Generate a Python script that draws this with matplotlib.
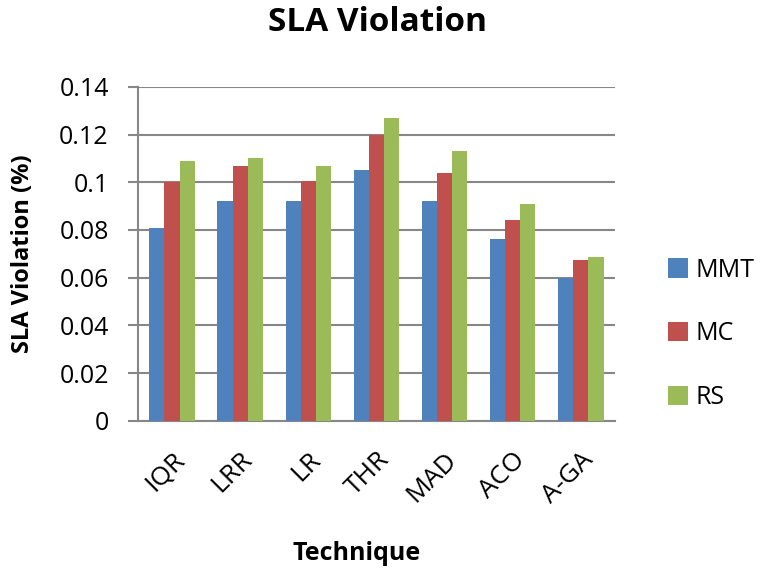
import matplotlib.pyplot as plt
import numpy as np

plt.rcParams['font.family'] = ['Open Sans', 'DejaVu Sans']

techniques = ['IQR', 'LRR', 'LR', 'THR', 'MAD', 'ACO', 'A-GA']
mmt = [0.081, 0.092, 0.092, 0.105, 0.092, 0.076, 0.060]
mc = [0.100, 0.107, 0.1005, 0.120, 0.104, 0.084, 0.0675]
rs = [0.109, 0.110, 0.107, 0.127, 0.113, 0.091, 0.0685]
yticks = [0, 0.02, 0.04, 0.06, 0.08, 0.1, 0.12, 0.14]
ytick_labels = ['0', '0.02', '0.04', '0.06', '0.08', '0.1', '0.12', '0.14']

fig = plt.figure(figsize=(7.62, 5.71), dpi=100)
ax = fig.add_axes([0.181, 0.263, 0.626, 0.585])

x = np.arange(len(techniques))
w = 0.222
ax.bar(x - w, mmt, w, color='#4F81BD', label='MMT', zorder=3)
ax.bar(x, mc, w, color='#C0504D', label='MC', zorder=3)
ax.bar(x + w, rs, w, color='#9BBB59', label='RS', zorder=3)

ax.set_xlim(-0.5, len(techniques) - 0.5)
ax.set_ylim(0, 0.14)
ax.set_yticks(yticks)
ax.set_yticklabels(ytick_labels, fontsize=18)
ax.set_xticks(x)
ax.set_xticklabels(techniques, rotation=45, ha='right', va='top',
                   rotation_mode='anchor', fontsize=19)
ax.tick_params(axis='x', length=0, pad=19)
ax.tick_params(axis='y', length=7, width=1.5, color='#878787', direction='out', pad=14)

ax.grid(axis='y', color='#878787', linewidth=1.5, zorder=0)
for s in ['top', 'right']:
    ax.spines[s].set_visible(False)
for s in ['left', 'bottom']:
    ax.spines[s].set_color('#878787')
    ax.spines[s].set_linewidth(1.5)

fig.text(0.496, 0.961, 'SLA Violation', fontsize=24, fontweight='bold',
         ha='center', va='center')
ax.set_ylabel('SLA Violation (%)', fontsize=17, fontweight='bold')
ax.yaxis.set_label_coords(-0.215, 0.5)
ax.set_xlabel('Technique', fontsize=18, fontweight='bold', va='top')
ax.xaxis.set_label_coords(0.458, -0.36)

ax.legend(loc='center left', bbox_to_anchor=(1.09, 0.26), frameon=False,
          fontsize=18, handlelength=0.8, handleheight=0.8, handletextpad=0.3,
          labelspacing=1.55, borderaxespad=0)

fig.savefig('out.png', dpi=100)
